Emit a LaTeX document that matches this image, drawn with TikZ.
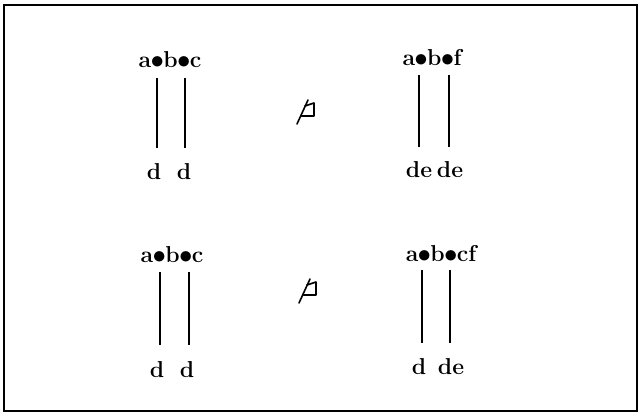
\documentclass[tikz,border=0pt]{standalone}
\usepackage{amsmath,amssymb}
\usetikzlibrary{positioning}
\newcommand{\bul}{\kern-0.03em\raisebox{-0.03em}{\scalebox{1.08}{$\bullet$}}\kern-0.03em}
\tikzset{
    % bold terms
    term/.style={font=\fontsize{23}{27}\selectfont\bfseries, inner sep=0pt},
    % vertical links under the bullets
    link/.style={line width=1.4pt},
    frame/.style={line width=1.4pt},
    % hand drawn "not below" sign
    nsign/.style={line width=1.6pt, line join=round, line cap=round},
}
\begin{document}
\begin{tikzpicture}[x=1pt,y=-1pt]
  \useasboundingbox (0,0) rectangle (640,415);
  \draw[frame] (4,5) rectangle (637,411);

  % upper left
  \node[term] (ul) at (170,60) {a\bul b\bul c};
  \coordinate (ul1) at (157,78);  \coordinate (ul1e) at (157,148);
  \coordinate (ul2) at (185,78);  \coordinate (ul2e) at (185,148);
  \draw[link] (ul1) -- (ul1e);
  \draw[link] (ul2) -- (ul2e);
  \node[term] (uld1) at (154,172) {d};
  \node[term] (uld2) at (184,172) {d};

  % upper right
  \node[term] (ur) at (432,58) {a\bul b\bul f};
  \coordinate (ur1) at (419,75);  \coordinate (ur1e) at (419,147);
  \coordinate (ur2) at (449,75);  \coordinate (ur2e) at (449,147);
  \draw[link] (ur1) -- (ur1e);
  \draw[link] (ur2) -- (ur2e);
  \node[term] (urd1) at (419,170) {de};
  \node[term] (urd2) at (450,170) {de};

  % lower left
  \node[term] (ll) at (172,255) {a\bul b\bul c};
  \coordinate (ll1) at (160,272); \coordinate (ll1e) at (160,345);
  \coordinate (ll2) at (189,272); \coordinate (ll2e) at (189,345);
  \draw[link] (ll1) -- (ll1e);
  \draw[link] (ll2) -- (ll2e);
  \node[term] (lld1) at (157,370) {d};
  \node[term] (lld2) at (187,370) {d};

  % lower right
  \node[term] (lr) at (441,254) {a\bul b\bul cf};
  \coordinate (lr1) at (422,270); \coordinate (lr1e) at (422,343);
  \coordinate (lr2) at (450,270); \coordinate (lr2e) at (450,343);
  \draw[link] (lr1) -- (lr1e);
  \draw[link] (lr2) -- (lr2e);
  \node[term] (lrd1) at (419,367) {d};
  \node[term] (lrd2) at (451,367) {de};

  % the two signs
  \draw[nsign] (297,124) -- (308,100);
  \draw[nsign] (305,106) -- (314,103) -- (314,116) -- (301.5,116);
  \draw[nsign] (299,303) -- (310,279);
  \draw[nsign] (307,285) -- (316,282) -- (316,295) -- (303.5,295);
\end{tikzpicture}
\end{document}
